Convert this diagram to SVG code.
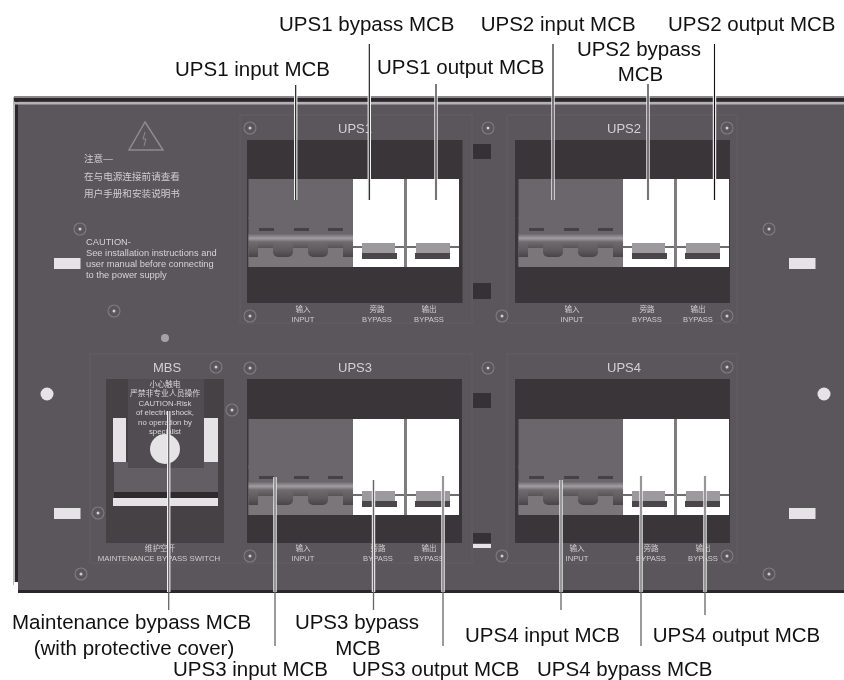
<svg xmlns="http://www.w3.org/2000/svg" width="844" height="680" viewBox="0 0 844 680">
<style>
text{font-family:"Liberation Sans","Noto Sans CJK SC",Arial,sans-serif}
.lb{font-size:20.5px;fill:#111}
.m{text-anchor:middle}
.t{font-size:13px;fill:#d2d0d2;text-anchor:middle}
.s{font-size:7.6px;fill:#cfcdcf;text-anchor:middle}
.c{font-size:9.3px;fill:#d5d3d5}
.z{font-size:9.6px;fill:#cfcdcf}
.cv{font-size:7.8px;fill:#d8d6d8;text-anchor:middle}
.bk{fill:#3a3539}
.fr{fill:none;stroke:#625d62;stroke-width:1}
.wh{fill:#e6e3e6}
.sq{fill:#343034}
.sc{fill:none;stroke:#7f7b7f;stroke-width:1.100}
.sd{fill:#cfcdcf}
.halo{stroke:#f2f2f2;stroke-width:3.400;fill:none}
.top{stroke:#111;stroke-width:1.100;fill:none}
.bot{stroke:#666;stroke-width:1.300;fill:none}
</style>
<defs>
<filter id="soft" x="-5%" y="-5%" width="110%" height="110%"><feGaussianBlur stdDeviation="0.45"/></filter>
<linearGradient id="band" x1="0" y1="0" x2="0" y2="1">
<stop offset="0" stop-color="#625e62"/><stop offset=".35" stop-color="#a09da0"/><stop offset=".6" stop-color="#6e6a6e"/><stop offset="1" stop-color="#575357"/>
</linearGradient>
<linearGradient id="hump" x1="0" y1="0" x2="0" y2="1">
<stop offset="0" stop-color="#6e6a6e"/><stop offset=".55" stop-color="#5e5a5e"/><stop offset="1" stop-color="#484448"/>
</linearGradient>
<g id="brk">
<rect x="1.500" y="-50" width="104.500" height="50" fill="#6b666b"/>
<rect x="1.500" y="-34" width="104.500" height="15" fill="url(#band)"/>
<rect x="1.500" y="-19" width="104.500" height="19" fill="#7a767a"/>
<g fill="url(#hump)">
<rect x="1.500" y="-25" width="9.500" height="15"/>
<rect x="26" y="-25" width="20" height="15" rx="5"/>
<rect x="61" y="-25" width="20" height="15" rx="5"/>
<rect x="96" y="-25" width="10" height="15"/>
</g>
<g fill="#454145">
<rect x="12" y="-39" width="15" height="3"/>
<rect x="47" y="-39" width="15" height="3"/>
<rect x="81" y="-39" width="15" height="3"/>
</g>
<rect x="106" y="-50" width="51" height="50" fill="#fff"/>
<rect x="160" y="-50" width="52" height="50" fill="#fff"/>
<rect x="157" y="-50" width="3" height="50" fill="#7f7d7f"/>
<rect x="106" y="-21" width="51" height="2" fill="#6f6d6f"/>
<rect x="160" y="-21" width="52" height="2" fill="#6f6d6f"/>
<rect x="115" y="-24" width="33" height="16" fill="#9c9a9c"/>
<rect x="169" y="-24" width="34" height="16" fill="#9c9a9c"/>
<rect x="115" y="-14" width="35" height="6" fill="#4a464a"/>
<rect x="168" y="-14" width="35" height="6" fill="#4a464a"/>
</g>
<g id="screw"><circle r="6" class="sc"/><circle r="1.500" class="sd"/></g>
</defs>

<g id="panel">
<rect x="14" y="96" width="830" height="497" fill="#5b565b"/>
<rect x="13" y="97" width="2" height="488" fill="#bdbabd"/>
<rect x="15" y="98" width="3" height="487" fill="#2a272a"/>
<rect x="14" y="96" width="830" height="2" fill="#8a878a"/>
<rect x="14" y="98" width="830" height="3.500" fill="#2a272a"/>
<rect x="14" y="102" width="830" height="2.500" fill="#b5b2b5"/>
<rect x="18" y="590" width="826" height="3" fill="#2a272a"/>
<rect x="14" y="582" width="4" height="11" fill="#fff"/>
<g filter="url(#soft)">
<rect class="fr" x="240" y="115" width="232" height="208"/>
<rect class="fr" x="507" y="115" width="230" height="208"/>
<rect class="fr" x="90" y="354" width="382" height="209"/>
<rect class="fr" x="507" y="354" width="230" height="209"/>
<path d="M145 122L129 150H163Z" fill="none" stroke="#8e8a8e" stroke-width="1.500"/>
<path d="M145 132l-2 7h3l-2 7" fill="none" stroke="#8e8a8e"/>
<text class="z" x="84" y="162">注意—</text>
<text class="z" x="84" y="180">在与电源连接前请查看</text>
<text class="z" x="84" y="197">用户手册和安装说明书</text>
<text class="c" x="86" y="245">CAUTION-</text>
<text class="c" x="86" y="256">See installation instructions and</text>
<text class="c" x="86" y="267">user manual before connecting</text>
<text class="c" x="86" y="278">to the power supply</text>
<rect class="wh" x="54" y="258" width="26.500" height="11"/>
<rect class="wh" x="789" y="258" width="26.500" height="11"/>
<rect class="wh" x="54" y="508" width="26.500" height="11"/>
<rect class="wh" x="789" y="508" width="26.500" height="11"/>
<circle class="wh" cx="47" cy="394" r="6.500"/>
<circle class="wh" cx="824" cy="394" r="6.500"/>
<circle cx="165" cy="338" r="4" fill="#a5a2a5"/>
<rect class="sq" x="473" y="144" width="18" height="15"/>
<rect class="sq" x="473" y="283" width="18" height="16"/>
<rect class="sq" x="473" y="393" width="18" height="15"/>
<rect class="sq" x="473" y="533" width="18" height="10"/>
<rect class="wh" x="473" y="544" width="18" height="4"/>
<use href="#screw" x="250" y="128"/><use href="#screw" x="250" y="316"/>
<use href="#screw" x="80" y="229"/><use href="#screw" x="114" y="311"/>
<use href="#screw" x="488" y="128"/><use href="#screw" x="502" y="316"/>
<use href="#screw" x="727" y="128"/><use href="#screw" x="727" y="316"/>
<use href="#screw" x="769" y="229"/>
<use href="#screw" x="250" y="368"/><use href="#screw" x="250" y="556"/>
<use href="#screw" x="216" y="367"/><use href="#screw" x="232" y="410"/>
<use href="#screw" x="98" y="513"/><use href="#screw" x="81" y="574"/>
<use href="#screw" x="488" y="368"/><use href="#screw" x="502" y="556"/>
<use href="#screw" x="727" y="367"/><use href="#screw" x="727" y="556"/>
<use href="#screw" x="769" y="574"/>
</g>
</g>

<g id="ups1">
<text class="t" x="355" y="133">UPS1</text>
<rect class="bk" x="247" y="140" width="215.500" height="163"/>
<rect x="248.500" y="179" width="104.500" height="40" fill="#6b666b"/>
<rect x="353" y="179" width="51" height="40" fill="#fff"/>
<rect x="407" y="179" width="52" height="40" fill="#fff"/>
<rect x="404" y="179" width="3" height="40" fill="#7f7d7f"/>
<use href="#brk" x="247" y="267"/>
<g filter="url(#soft)"><text class="s" x="303" y="312">输入</text><text class="s" x="303" y="322">INPUT</text><text class="s" x="377" y="312">旁路</text><text class="s" x="377" y="322">BYPASS</text><text class="s" x="429" y="312">输出</text><text class="s" x="429" y="322">BYPASS</text></g>
</g>

<g id="ups2">
<text class="t" x="624" y="133">UPS2</text>
<rect class="bk" x="515" y="140" width="215" height="163"/>
<rect x="518.500" y="179" width="104.500" height="40" fill="#6b666b"/>
<rect x="623" y="179" width="51" height="40" fill="#fff"/>
<rect x="677" y="179" width="52" height="40" fill="#fff"/>
<rect x="674" y="179" width="3" height="40" fill="#7f7d7f"/>
<use href="#brk" x="517" y="267"/>
<g filter="url(#soft)"><text class="s" x="572" y="312">输入</text><text class="s" x="572" y="322">INPUT</text><text class="s" x="647" y="312">旁路</text><text class="s" x="647" y="322">BYPASS</text><text class="s" x="698" y="312">输出</text><text class="s" x="698" y="322">BYPASS</text></g>
</g>

<g id="mbs">
<text class="t" x="167" y="372">MBS</text>
<rect x="106" y="379" width="118" height="164" fill="#454145"/>
<rect class="wh" x="113" y="418" width="13" height="44"/>
<rect class="wh" x="204" y="418" width="14" height="44"/>
<rect x="114" y="462" width="104" height="30" fill="#635e63"/>
<rect x="114" y="492" width="104" height="6" fill="#2e2a2e"/>
<rect class="wh" x="113" y="498" width="105" height="8"/>
<rect x="128" y="379" width="76" height="89" fill="#514c51"/>
<circle class="wh" cx="165" cy="449" r="15"/>
<g filter="url(#soft)">
<text class="cv" x="165" y="387">小心触电</text>
<text class="cv" x="165" y="396">严禁非专业人员操作</text>
<text class="cv" x="165" y="406">CAUTION-Risk</text>
<text class="cv" x="165" y="415">of electric shock,</text>
<text class="cv" x="165" y="425">no operation by</text>
<text class="cv" x="165" y="434">specialist</text>
<text class="s" x="160" y="551">维护空开</text>
<text class="s" x="159" y="561" style="font-size:7.8px">MAINTENANCE BYPASS SWITCH</text>
</g>
</g>

<g id="ups3">
<text class="t" x="355" y="372">UPS3</text>
<rect class="bk" x="247" y="379" width="215" height="164"/>
<rect x="248.500" y="419" width="104.500" height="50" fill="#6b666b"/>
<rect x="353" y="419" width="51" height="50" fill="#fff"/>
<rect x="407" y="419" width="52" height="50" fill="#fff"/>
<rect x="404" y="419" width="3" height="50" fill="#7f7d7f"/>
<use href="#brk" x="247" y="515"/>
<g filter="url(#soft)"><text class="s" x="303" y="551">输入</text><text class="s" x="303" y="561">INPUT</text><text class="s" x="378" y="551">旁路</text><text class="s" x="378" y="561">BYPASS</text><text class="s" x="429" y="551">输出</text><text class="s" x="429" y="561">BYPASS</text></g>
</g>

<g id="ups4">
<text class="t" x="624" y="372">UPS4</text>
<rect class="bk" x="515" y="379" width="215" height="164"/>
<rect x="518.500" y="419" width="104.500" height="50" fill="#6b666b"/>
<rect x="623" y="419" width="51" height="50" fill="#fff"/>
<rect x="677" y="419" width="52" height="50" fill="#fff"/>
<rect x="674" y="419" width="3" height="50" fill="#7f7d7f"/>
<use href="#brk" x="517" y="515"/>
<g filter="url(#soft)"><text class="s" x="577" y="551">输入</text><text class="s" x="577" y="561">INPUT</text><text class="s" x="651" y="551">旁路</text><text class="s" x="651" y="561">BYPASS</text><text class="s" x="703" y="551">输出</text><text class="s" x="703" y="561">BYPASS</text></g>
</g>

<g id="connectors">
<path class="halo" d="M295.700 96V200M369.300 96V200M436 96V200M553 96V200M648 96V200M714.500 96V200"/>
<path class="halo" d="M168.700 411V592M275 477V592M373.500 480V592M443 476V592M561 480V592M641 476V592M705 476V592"/>
<path class="top" d="M295.700 85V200M369.300 44V200M436 84V200M553 44V200M648 84V200M714.500 44V200"/>
<path class="bot" d="M168.700 411V610M275 477V646M373.500 480V610M443 476V646M561 480V610M641 476V646M705 476V615"/>
</g>

<g id="labels">
<text class="lb" x="175" y="76">UPS1 input MCB</text>
<text class="lb" x="279" y="31">UPS1 bypass MCB</text>
<text class="lb" x="377" y="74">UPS1 output MCB</text>
<text class="lb" x="480.700" y="31">UPS2 input MCB</text>
<text class="lb" x="668" y="31">UPS2 output MCB</text>
<text class="lb m" x="639" y="56">UPS2 bypass</text>
<text class="lb m" x="640.500" y="81">MCB</text>
<text class="lb" x="12" y="629">Maintenance bypass MCB</text>
<text class="lb m" x="134" y="655">(with protective cover)</text>
<text class="lb" x="173" y="676">UPS3 input MCB</text>
<text class="lb m" x="357" y="629">UPS3 bypass</text>
<text class="lb m" x="358" y="655">MCB</text>
<text class="lb" x="352" y="676">UPS3 output MCB</text>
<text class="lb" x="465" y="642">UPS4 input MCB</text>
<text class="lb" x="652.700" y="642">UPS4 output MCB</text>
<text class="lb" x="537" y="676">UPS4 bypass MCB</text>
</g>
</svg>
